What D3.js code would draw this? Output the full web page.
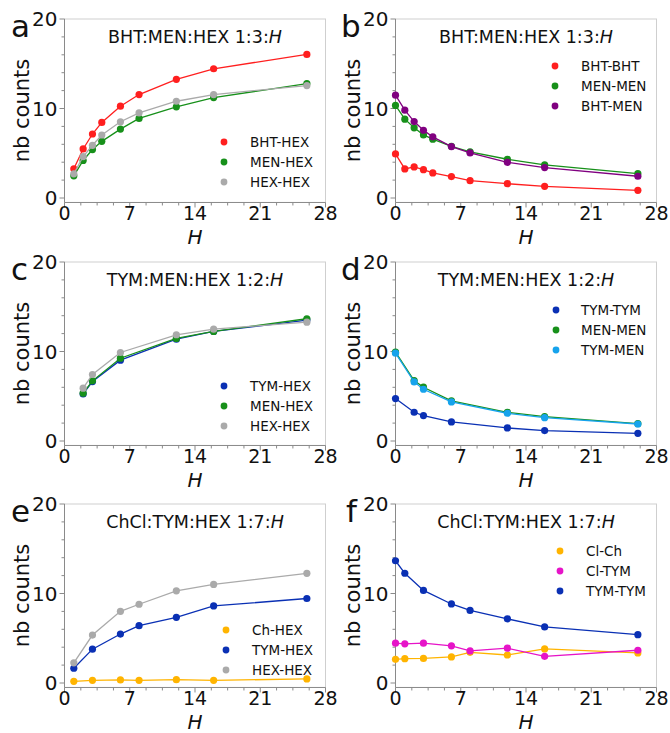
<!DOCTYPE html>
<html>
<head>
<meta charset="utf-8">
<script src="https://cdn.jsdelivr.net/npm/d3@7"></script>
<style>
  body { margin: 0; background: #fff; }
  text { font-family: "DejaVu Sans", sans-serif; fill: #111; }
</style>
</head>
<body>
<div id="chart"></div>
<script>
// values
const hA = [1, 2, 3, 4, 6, 8, 12, 16, 26];
const aBhtHex = [3.26, 5.48, 7.15, 8.44, 10.26, 11.56, 13.26, 14.44, 16.04];
const aMenHex = [2.48, 4.19, 5.41, 6.33, 7.70, 8.89, 10.19, 11.22, 12.78];
const aHexHex = [2.70, 4.63, 5.89, 7.04, 8.52, 9.52, 10.81, 11.56, 12.56];

const hB = [0, 1, 2, 3, 4, 6, 8, 12, 16, 26];
const bBhtBht = [4.93, 3.25, 3.47, 3.17, 2.80, 2.39, 1.94, 1.60, 1.31, 0.86];
const bMenMen = [10.34, 8.81, 7.84, 7.05, 6.57, 5.78, 5.15, 4.33, 3.69, 2.72];
const bBhtMen = [11.49, 9.81, 8.54, 7.57, 6.83, 5.75, 5.04, 3.99, 3.40, 2.43];

const hC = [2, 3, 6, 12, 16, 26];
const cTymHex = [5.26, 6.64, 9.03, 11.38, 12.24, 13.51];
const cMenHex = [5.34, 6.72, 9.25, 11.46, 12.24, 13.66];
const cHexHex = [5.90, 7.43, 9.89, 11.87, 12.50, 13.28];

const hD = [0, 2, 3, 6, 12, 16, 26];
const dTymTym = [4.74, 3.21, 2.84, 2.13, 1.46, 1.16, 0.86];
const dMenMen = [9.93, 6.75, 6.01, 4.48, 3.21, 2.72, 1.94];
const dTymMen = [9.81, 6.60, 5.78, 4.37, 3.10, 2.61, 1.90];

const hE = [1, 3, 6, 8, 12, 16, 26];
const eChHex = [0.19, 0.30, 0.34, 0.30, 0.37, 0.30, 0.45];
const eTymHex = [1.65, 3.78, 5.47, 6.40, 7.34, 8.61, 9.44];
const eHexHex = [2.25, 5.36, 8.01, 8.80, 10.30, 11.01, 12.25];

const hF = [0, 1, 3, 6, 8, 12, 16, 26];
const fClCh = [2.64, 2.72, 2.75, 2.91, 3.43, 3.13, 3.81, 3.36];
const fClTym = [4.45, 4.38, 4.45, 4.15, 3.58, 3.89, 2.98, 3.66];
const fTymTym = [13.66, 12.26, 10.34, 8.83, 8.11, 7.17, 6.26, 5.40];

const xMajor = [0, 7, 14, 21, 28];
const yMajor = [0, 10, 20];

const RED = "#ff1f1f", GREEN = "#17901a", GRAY = "#aaaaaa", PURPLE = "#800080",
      BLUE = "#0a30b4", LBLUE = "#16a3ec", ORANGE = "#ffb400", MAGENTA = "#e614c8";

const panels = [
  { letter: "a", col: 0, row: 0, title: "BHT:MEN:HEX 1:3:", h: hA, legendAt: [224, 250, 142],
    series: [["BHT-HEX", aBhtHex, RED], ["MEN-HEX", aMenHex, GREEN], ["HEX-HEX", aHexHex, GRAY]] },
  { letter: "b", col: 1, row: 0, title: "BHT:MEN:HEX 1:3:", h: hB, legendAt: [555, 581, 66],
    series: [["BHT-BHT", bBhtBht, RED], ["MEN-MEN", bMenMen, GREEN], ["BHT-MEN", bBhtMen, PURPLE]] },
  { letter: "c", col: 0, row: 1, title: "TYM:MEN:HEX 1:2:", h: hC, legendAt: [224, 250, 386],
    series: [["TYM-HEX", cTymHex, BLUE], ["MEN-HEX", cMenHex, GREEN], ["HEX-HEX", cHexHex, GRAY]] },
  { letter: "d", col: 1, row: 1, title: "TYM:MEN:HEX 1:2:", h: hD, legendAt: [556, 581, 310],
    series: [["TYM-TYM", dTymTym, BLUE], ["MEN-MEN", dMenMen, GREEN], ["TYM-MEN", dTymMen, LBLUE]] },
  { letter: "e", col: 0, row: 2, title: "ChCl:TYM:HEX 1:7:", h: hE, legendAt: [226, 252, 630],
    series: [["Ch-HEX", eChHex, ORANGE], ["TYM-HEX", eTymHex, BLUE], ["HEX-HEX", eHexHex, GRAY]] },
  { letter: "f", col: 1, row: 2, title: "ChCl:TYM:HEX 1:7:", h: hF, legendAt: [560, 586, 551],
    series: [["Cl-Ch", fClCh, ORANGE], ["Cl-TYM", fClTym, MAGENTA], ["TYM-TYM", fTymTym, BLUE]] }
];

const colLeft = [64.5, 395.5];
const rowTop = [19, 262, 504];
const plotW = 261, plotH20 = 179;
const hLabelOff = 41.2;

const svg = d3.select("#chart").append("svg")
  .attr("width", 670).attr("height", 733);

panels.forEach(function (p) {
  const left = colLeft[p.col], top = rowTop[p.row];
  const x = d3.scaleLinear().domain([0, 28]).range([left, left + plotW]);
  const y = d3.scaleLinear().domain([0, 20]).range([top + plotH20, top]);
  const yBot = y(-0.5);
  const g = svg.append("g");

  // frame
  g.append("rect").attr("x", left).attr("y", top).attr("width", plotW).attr("height", yBot - top)
    .attr("fill", "none").attr("stroke", "#cfcfcf").attr("stroke-width", 1);

  // y axis
  const yMinor = d3.range(0, 20.01, 2).filter(v => yMajor.indexOf(v) < 0);
  g.append("line").attr("x1", left).attr("x2", left).attr("y1", top).attr("y2", yBot)
    .attr("stroke", "#8a8a8a");
  g.selectAll("ymaj").data(yMajor).enter().append("line")
    .attr("x1", left - 5).attr("x2", left).attr("y1", d => y(d)).attr("y2", d => y(d))
    .attr("stroke", "#8a8a8a");
  g.selectAll("ymin").data(yMinor).enter().append("line")
    .attr("x1", left - 3).attr("x2", left).attr("y1", d => y(d)).attr("y2", d => y(d))
    .attr("stroke", "#8a8a8a");
  g.selectAll("ylab").data(yMajor).enter().append("text")
    .attr("x", left - 7).attr("y", d => y(d)).attr("dy", "0.36em")
    .attr("text-anchor", "end").style("font-size", "20px").text(d => d);

  // x axis
  const xMinor = d3.range(0, 28.01, 1.75).filter(v => xMajor.indexOf(v) < 0);
  g.append("line").attr("x1", left).attr("x2", left + plotW).attr("y1", yBot).attr("y2", yBot)
    .attr("stroke", "#8a8a8a");
  g.selectAll("xmaj").data(xMajor).enter().append("line")
    .attr("x1", d => x(d)).attr("x2", d => x(d)).attr("y1", yBot).attr("y2", yBot + 5)
    .attr("stroke", "#8a8a8a");
  g.selectAll("xmin").data(xMinor).enter().append("line")
    .attr("x1", d => x(d)).attr("x2", d => x(d)).attr("y1", yBot).attr("y2", yBot + 3)
    .attr("stroke", "#8a8a8a");
  g.selectAll("xlab").data(xMajor).enter().append("text")
    .attr("x", d => x(d)).attr("y", yBot + 17.5)
    .attr("text-anchor", "middle").style("font-size", "19px").text(d => d);

  // axis titles
  g.append("text").attr("x", (x(0) + x(28)) / 2).attr("y", yBot + hLabelOff)
    .attr("text-anchor", "middle").style("font-size", "20px").style("font-style", "italic").text("H");
  const yl = p.col === 0 ? 28.5 : 359.5;
  g.append("text").attr("transform", "translate(" + yl + "," + (y(10) + 2) + ") rotate(-90)")
    .attr("text-anchor", "middle").style("font-size", "21px").text("nb counts");

  // panel letter
  g.append("text").attr("x", p.col === 0 ? 11 : (p.letter === "f" ? 346 : 341))
    .attr("y", top + 18).style("font-size", "31px").text(p.letter);

  // panel title
  const t = g.append("text").attr("x", (x(0) + x(28)) / 2).attr("y", top + 23.5)
    .attr("text-anchor", "middle").style("font-size", "17.5px");
  t.append("tspan").text(p.title);
  t.append("tspan").style("font-style", "italic").text("H");

  // series
  const line = d3.line().x(d => x(d[0])).y(d => y(d[1]));
  p.series.forEach(function (s, i) {
    const pts = p.h.map((hv, k) => [hv, s[1][k]]);
    g.append("path").attr("d", line(pts)).attr("fill", "none")
      .attr("stroke", s[2]).attr("stroke-width", 1.3);
    g.selectAll("pt" + i).data(pts).enter().append("circle")
      .attr("cx", d => x(d[0])).attr("cy", d => y(d[1])).attr("r", 3.6)
      .attr("fill", s[2]);

    // legend entry
    const ly = p.legendAt[2] + i * 20;
    g.append("circle").attr("cx", p.legendAt[0]).attr("cy", ly).attr("r", 3.4).attr("fill", s[2]);
    g.append("text").attr("x", p.legendAt[1]).attr("y", ly).attr("dy", "0.36em")
      .style("font-size", "13.5px").text(s[0]);
  });
});
</script>
</body>
</html>
